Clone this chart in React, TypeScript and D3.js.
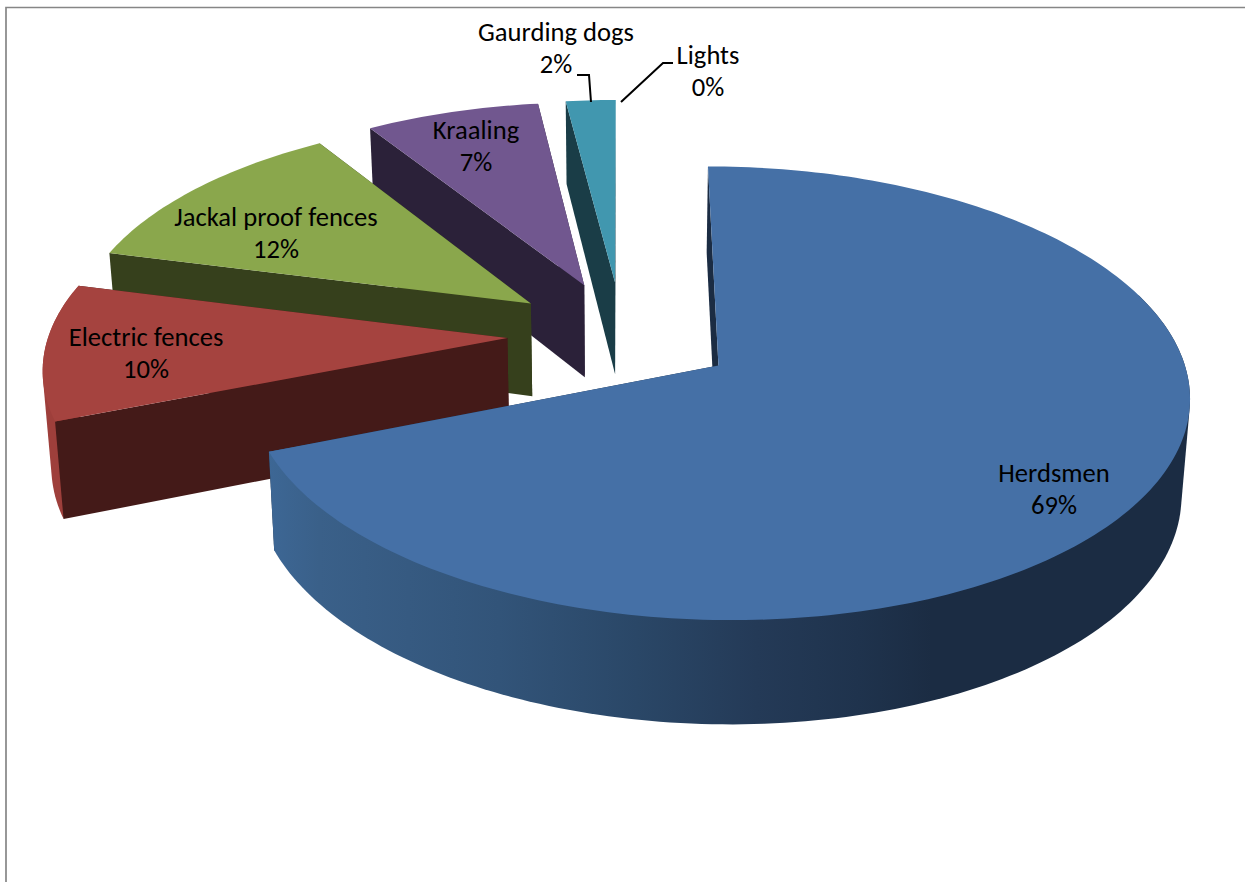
import React from "react";
import * as d3 from "d3";

// ---- data ----
const categories = ["Herdsmen", "Electric fences", "Jackal proof fences", "Kraaling", "Gaurding dogs", "Lights"];
const shares = [69, 10, 12, 7, 2, 0];
const shareLabels = ["69%", "10%", "12%", "7%", "2%", "0%"];

// ---- styling ----
const topColors = ["#4570A6", "#A5433F", "#8AA74C", "#71578F", "#4197AF", "#D9843B"];
const wallColors = ["#1B2C43", "#441A18", "#36401C", "#2B2139", "#1A3D47", "#5A3010"];
const outerColors = ["url(#herdsmenSide)", "#9E3F3B", "#36401C", "#2B2139", "#1A3D47", "#5A3010"];
const labelAnchors: [number, number][] = [[1054, 473], [146, 337], [276, 217], [476, 130], [556, 32], [708, 55]];

const W = 1245, H = 882;
// perspective of the tilted pie plane
const PX = 622, PY = 334.7, F = 458.6, FK = 216, P = 0.12, EXPLODE = 0.25;
const depth = (z: number) => 94 + 9 * z;
const BOTTOM_SHRINK = 0.985;
// rim angles (radians, measured from +x, clockwise on screen) whose outer wall faces the viewer
const FRONT_FROM = -20 * Math.PI / 180;
const FRONT_TO = 195 * Math.PI / 180;

type Pt = [number, number];
const project = (X: number, Z: number, bottom = false): Pt => {
  const w = 1 - P * Z;
  const x = (F * X) / w;
  const y = (FK * Z) / w;
  return bottom ? [PX + x * BOTTOM_SHRINK, PY + y + depth(Z)] : [PX + x, PY + y];
};

const line = d3.line<Pt>().x((d) => d[0]).y((d) => d[1]);

const pieGen = d3.pie<number>().sort(null).startAngle(0).endAngle(Math.PI * 2);

const fontFamily = "Carlito, Calibri, Lato, sans-serif";
const fontSize = 26.6;

export default function App() {
  const arcs = pieGen(shares);
  const slices = arcs.map((a, i) => {
    const t0 = a.startAngle - Math.PI / 2;
    const t1 = a.endAngle - Math.PI / 2;
    const mid = (t0 + t1) / 2;
    const cx = EXPLODE * Math.cos(mid);
    const cz = EXPLODE * Math.sin(mid);
    const n = Math.max(2, Math.ceil((t1 - t0) / 0.02));
    const angles = d3.range(n + 1).map((k) => t0 + ((t1 - t0) * k) / n);
    const rimTop = angles.map((t) => project(cx + Math.cos(t), cz + Math.sin(t)));
    const rimBot = angles.map((t) => project(cx + Math.cos(t), cz + Math.sin(t), true));
    const front = angles.filter((t) => t >= FRONT_FROM && t <= FRONT_TO);
    const frontPts = front.flatMap((t) => [
      project(cx + Math.cos(t), cz + Math.sin(t)),
      project(cx + Math.cos(t), cz + Math.sin(t), true),
    ]);
    const apexTop = project(cx, cz);
    const apexBot = project(cx, cz, true);
    return { i, value: a.value, rimTop, rimBot, frontPts, apexTop, apexBot };
  });

  const paintOrder = slices.filter((s) => s.value > 0).reverse();

  return (
    <svg width={W} height={H} viewBox={`0 0 ${W} ${H}`} style={{ position: "absolute", left: 0, top: 0, display: "block", background: "#fff" }}>
      <defs>
        <linearGradient id="herdsmenSide" gradientUnits="userSpaceOnUse" x1={268} x2={1190} y1={0} y2={0}>
          <stop offset="0" stopColor="#3D6795" />
          <stop offset="0.056" stopColor="#3A6089" />
          <stop offset="0.25" stopColor="#325479" />
          <stop offset="0.4" stopColor="#2A4767" />
          <stop offset="0.53" stopColor="#243A57" />
          <stop offset="0.64" stopColor="#1F334D" />
          <stop offset="0.72" stopColor="#1B2C43" />
          <stop offset="1" stopColor="#1B2C43" />
        </linearGradient>
      </defs>

      <path d={`M${W},7.5 H6 V${H}`} fill="none" stroke="#868686" strokeWidth={1.7} />

      {paintOrder.map((s) => {
        const endN = s.rimTop.length - 1;
        const hull = s.frontPts.length >= 6 ? d3.polygonHull(s.frontPts) : null;
        const endWall: Pt[] = [s.apexTop, s.rimTop[endN], s.rimBot[endN], s.apexBot];
        const startWall: Pt[] = [s.apexTop, s.rimTop[0], s.rimBot[0], s.apexBot];
        const top: Pt[] = [s.apexTop, ...s.rimTop];
        return (
          <g key={categories[s.i]}>
            <path d={line(endWall) + "Z"} fill={wallColors[s.i]} />
            {hull && <path d={line(hull as Pt[]) + "Z"} fill={outerColors[s.i]} />}
            <path d={line(startWall) + "Z"} fill={wallColors[s.i]} />
            <path d={line(top) + "Z"} fill={topColors[s.i]} />
          </g>
        );
      })}

      <path d={line([[577, 75], [589, 75], [591, 102]])!} fill="none" stroke="#000" strokeWidth={2} />
      <path d={line([[621, 102], [663, 63], [673, 63]])!} fill="none" stroke="#000" strokeWidth={2} />

      {categories.map((c, i) => (
        <text key={c} textAnchor="middle" fontFamily={fontFamily} fontSize={fontSize} fill="#000">
          <tspan x={labelAnchors[i][0]} y={labelAnchors[i][1] + 9}>{c}</tspan>
          <tspan x={labelAnchors[i][0]} y={labelAnchors[i][1] + 41}>{shareLabels[i]}</tspan>
        </text>
      ))}
    </svg>
  );
}
